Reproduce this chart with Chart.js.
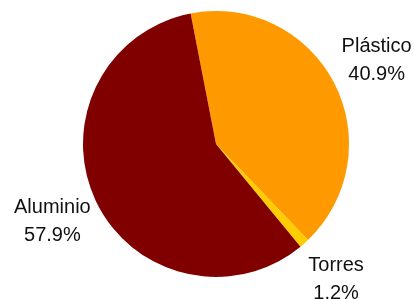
<!DOCTYPE html>
<html>
<head>
<meta charset="utf-8">
<script src="https://cdn.jsdelivr.net/npm/chart.js@4/dist/chart.umd.min.js"></script>
<style>
    html, body { margin: 0; padding: 0; background: #fff; }
    #wrap { width: 414px; height: 299px; }
</style>
</head>
<body>
<div id="wrap"><canvas id="pieChart" width="414" height="299"></canvas></div>
<script>
// Data
const categories = ['Plástico', 'Torres', 'Aluminio'];
const shares = [40.9, 1.2, 57.9];
const sliceColors = ['#FF9900', '#FFCC00', '#800000'];

// Draws "name / pct%" labels outside each slice
const outsideLabels = {
    id: 'outsideLabels',
    afterDraw(chart) {
        const ctx = chart.ctx;
        const meta = chart.getDatasetMeta(0);
        ctx.save();
        ctx.font = "20px 'Liberation Sans', Arial, sans-serif";
        ctx.fillStyle = '#111';
        ctx.textAlign = 'center';
        ctx.textBaseline = 'middle';
        meta.data.forEach((arc, i) => {
            const mid = (arc.startAngle + arc.endAngle) / 2;
            const r = arc.outerRadius * 1.36;
            const x = arc.x + Math.cos(mid) * r;
            const y = arc.y + Math.sin(mid) * r;
            ctx.fillText(categories[i], x, y - 14);
            ctx.fillText(shares[i].toFixed(1) + '%', x, y + 14);
        });
        ctx.restore();
    }
};

new Chart(document.getElementById('pieChart'), {
    type: 'pie',
    data: {
        labels: categories,
        datasets: [{
            data: shares,
            backgroundColor: sliceColors,
            borderWidth: 0
        }]
    },
    options: {
        responsive: false,
        animation: false,
        rotation: -11,
        layout: {
            padding: { left: 83, right: 65, top: 11, bottom: 22 }
        },
        plugins: {
            legend: { display: false },
            tooltip: { enabled: false }
        }
    },
    plugins: [outsideLabels]
});
</script>
</body>
</html>
